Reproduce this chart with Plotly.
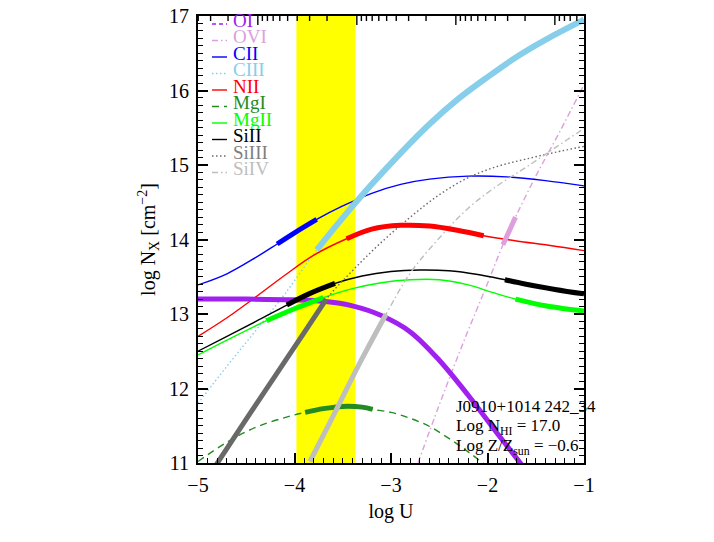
import math
import plotly.graph_objects as go

# values: log U and log N for each ion
u_oi = [-5.0, -4.5, -4.0, -3.7, -3.4, -3.1, -2.8, -2.5, -2.2, -1.9, -1.6, -1.4]
n_oi = [13.20, 13.20, 13.19, 13.17, 13.11, 12.98, 12.76, 12.38, 11.91, 11.40, 10.90, 10.56]
thick_oi = [(-5.0, -1.4)]

u_ovi = [-2.72, -2.5, -2.25, -2.0, -1.84, -1.71, -1.5, -1.25, -1.0]
n_ovi = [11.0, 11.78, 12.62, 13.41, 13.93, 14.30, 14.85, 15.45, 16.08]
thick_ovi = [(-1.84, -1.71)]

u_cii = [-5.0, -4.7, -4.4, -4.18, -4.0, -3.77, -3.5, -3.2, -2.9, -2.6, -2.2, -1.8, -1.4, -1.0]
n_cii = [13.39, 13.54, 13.76, 13.94, 14.09, 14.27, 14.45, 14.62, 14.74, 14.81, 14.85, 14.84, 14.79, 14.72]
thick_cii = [(-4.18, -3.77)]

u_ciii = [-5.0, -4.7, -4.4, -4.1, -3.77, -3.5, -3.2, -2.9, -2.6, -2.3, -2.0, -1.7, -1.4, -1.0]
n_ciii = [11.80, 12.30, 12.78, 13.27, 13.86, 14.29, 14.74, 15.16, 15.55, 15.89, 16.18, 16.45, 16.68, 16.95]
thick_ciii = [(-3.77, -1.0)]

u_nii = [-5.0, -4.7, -4.4, -4.1, -3.8, -3.46, -3.2, -2.9, -2.6, -2.3, -2.04, -1.7, -1.35, -1.0]
n_nii = [12.70, 12.95, 13.23, 13.52, 13.79, 14.01, 14.14, 14.19, 14.18, 14.12, 14.05, 13.98, 13.92, 13.85]
thick_nii = [(-3.46, -2.04)]

u_mgi = [-5.0, -4.7, -4.4, -4.1, -3.89, -3.7, -3.5, -3.3, -3.19, -3.0, -2.8, -2.6, -2.4, -2.2, -2.0]
n_mgi = [11.02, 11.28, 11.48, 11.61, 11.68, 11.73, 11.76, 11.75, 11.72, 11.68, 11.60, 11.49, 11.33, 11.15, 10.95]
thick_mgi = [(-3.89, -3.19)]

u_mgii = [-5.0, -4.7, -4.29, -4.0, -3.7, -3.4, -3.1, -2.8, -2.5, -2.2, -1.95, -1.71, -1.4, -1.2, -1.0]
n_mgii = [12.45, 12.65, 12.91, 13.07, 13.22, 13.34, 13.42, 13.46, 13.46, 13.39, 13.29, 13.20, 13.11, 13.07, 13.04]
thick_mgii = [(-4.29, -3.7), (-1.71, -1.0)]

u_sii = [-5.0, -4.7, -4.4, -4.08, -3.85, -3.58, -3.3, -3.0, -2.7, -2.4, -2.1, -1.82, -1.6, -1.3, -1.0]
n_sii = [12.50, 12.70, 12.90, 13.12, 13.27, 13.41, 13.51, 13.57, 13.59, 13.58, 13.53, 13.46, 13.40, 13.33, 13.27]
thick_sii = [(-4.08, -3.58), (-1.82, -1.0)]

u_siiii = [-4.85, -4.5, -4.2, -3.9, -3.67, -3.4, -3.11, -2.8, -2.5, -2.2, -1.9, -1.6, -1.3, -1.0]
n_siiii = [10.90, 11.59, 12.17, 12.75, 13.20, 13.58, 13.95, 14.30, 14.60, 14.83, 14.98, 15.08, 15.17, 15.25]
thick_siiii = [(-4.85, -3.67)]

u_siiv = [-3.84, -3.6, -3.3, -3.05, -2.8, -2.5, -2.2, -1.9, -1.6, -1.3, -1.0]
n_siiv = [11.02, 11.63, 12.40, 13.00, 13.55, 14.02, 14.42, 14.72, 14.97, 15.23, 15.49]
thick_siiv = [(-3.84, -3.05)]

# allowed range of log U from the observed columns
band_lo, band_hi = -3.98, -3.37

# top axis (log n_H, decreasing to the right): decade ticks and where -2 sits in log U
top_decades = [-2, -3, -4, -5]
top_u_ref = -4.38
top_scale = 1.026

ions = [
    ("OI", u_oi, n_oi, thick_oi, "#a020f0", "#a020f0", "4px,3px"),
    ("OVI", u_ovi, n_ovi, thick_ovi, "#dda0dd", "#dda0dd", "6px,3px,1.5px,3px"),
    ("CII", u_cii, n_cii, thick_cii, "#0000ff", "#0000ff", "solid"),
    ("CIII", u_ciii, n_ciii, thick_ciii, "#87ceeb", "#87ceeb", "1.5px,2.5px"),
    ("NII", u_nii, n_nii, thick_nii, "#ff0000", "#ff0000", "solid"),
    ("MgI", u_mgi, n_mgi, thick_mgi, "#228b22", "#228b22", "7px,5px"),
    ("MgII", u_mgii, n_mgii, thick_mgii, "#00ff00", "#00ff00", "solid"),
    ("SiII", u_sii, n_sii, thick_sii, "#000000", "#000000", "solid"),
    ("SiIII", u_siiii, n_siiii, thick_siiii, "#696969", "#7f7f7f", "1.5px,2.5px"),
    ("SiIV", u_siiv, n_siiv, thick_siiv, "#bebebe", "#bebebe", "6px,3px,1.5px,3px"),
]

FONT = "Liberation Serif"

fig = go.Figure()

for name, u, n, thick, col, tcol, dash in ions:
    fig.add_trace(go.Scatter(x=u, y=n, mode="lines", showlegend=False,
                             line=dict(color=col, width=1.4, dash=dash,
                                       shape="spline", smoothing=1)))

for name, u, n, thick, col, tcol, dash in ions:
    for lo, hi in thick:
        xs = [a for a in u if lo <= a <= hi]
        ys = [b for a, b in zip(u, n) if lo <= a <= hi]
        w = 6 if name == "CIII" else 5
        fig.add_trace(go.Scatter(x=xs, y=ys, mode="lines", showlegend=False,
                                 line=dict(color=col, width=w,
                                           shape="spline", smoothing=1)))

fig.add_vrect(x0=band_lo, x1=band_hi, fillcolor="#ffff00", opacity=1,
              line_width=0, layer="below")

L, R, T, B = 198, 584, 16, 463
def px(x):
    return (x - L) / (R - L)
def py(y):
    return (B - y) / (B - T)

# top axis ticks (log-spaced minor ticks)
def nh_to_u(t):
    return top_u_ref + (top_decades[0] - t) * top_scale

top_ticks = [(d, 9) for d in top_decades]
for d in [-1] + top_decades:
    for k in range(2, 10):
        top_ticks.append((d - 1 + math.log10(k), 5))
for t, ln in top_ticks:
    u = nh_to_u(t)
    if -5 < u < -1:
        fig.add_shape(type="line", xref="x", yref="paper", x0=u, x1=u,
                      y0=1, y1=1 - ln / (B - T),
                      line=dict(color="black", width=1.4))

# hand-made legend in the upper left corner
for i, (name, u, n, thick, col, tcol, dash) in enumerate(ions):
    yc = 20 + 16.5 * i
    fig.add_shape(type="line", xref="paper", yref="paper",
                  x0=px(212), x1=px(227), y0=py(yc + 4), y1=py(yc + 4),
                  line=dict(color=col, width=1.4, dash=dash))
    fig.add_annotation(text=name, xref="paper", yref="paper",
                       x=px(231), y=py(yc), xanchor="left", yanchor="middle",
                       showarrow=False, font=dict(family=FONT, size=19, color=tcol))

notes = ["J0910+1014 242_34", "Log N<sub>HI</sub> = 17.0",
         "Log Z/Z<sub>sun</sub> = \u22120.6"]
for i, t in enumerate(notes):
    fig.add_annotation(text=t, xref="paper", yref="paper",
                       x=px(454), y=py(406 + 20.5 * i), xanchor="left",
                       yanchor="middle", showarrow=False,
                       font=dict(family=FONT, size=17, color="black"))

tick_style = dict(ticks="inside", ticklen=10, tickwidth=1.5, tickcolor="black",
                  showgrid=False, zeroline=False, automargin=False)
minor_style = dict(ticks="inside", ticklen=5, tickwidth=1.2, tickcolor="black",
                   showgrid=False)

fig.update_layout(
    width=714, height=542,
    margin=dict(l=L, r=714 - R, t=T, b=542 - B, autoexpand=False),
    plot_bgcolor="white", paper_bgcolor="white",
    font=dict(family=FONT, size=20, color="black"),
    xaxis=dict(range=[-5, -1], dtick=1, showline=True, linewidth=2,
               linecolor="black", mirror=True, ticklabelstandoff=3,
               minor=dict(dtick=0.1, **minor_style),
               title=dict(text="log U", standoff=9, font=dict(size=20)),
               **tick_style),
    yaxis=dict(range=[11, 17], dtick=1, showline=True, linewidth=2,
               linecolor="black", mirror="ticks", ticklabelstandoff=3,
               minor=dict(dtick=0.1, **minor_style),
               title=dict(text="log N<sub>X</sub> [cm<sup>\u22122</sup>]",
                          standoff=8, font=dict(size=20)),
               **tick_style),
)

fig.write_html("out.html", config={"displayModeBar": False},
               post_script="document.body.style.margin='0';")
